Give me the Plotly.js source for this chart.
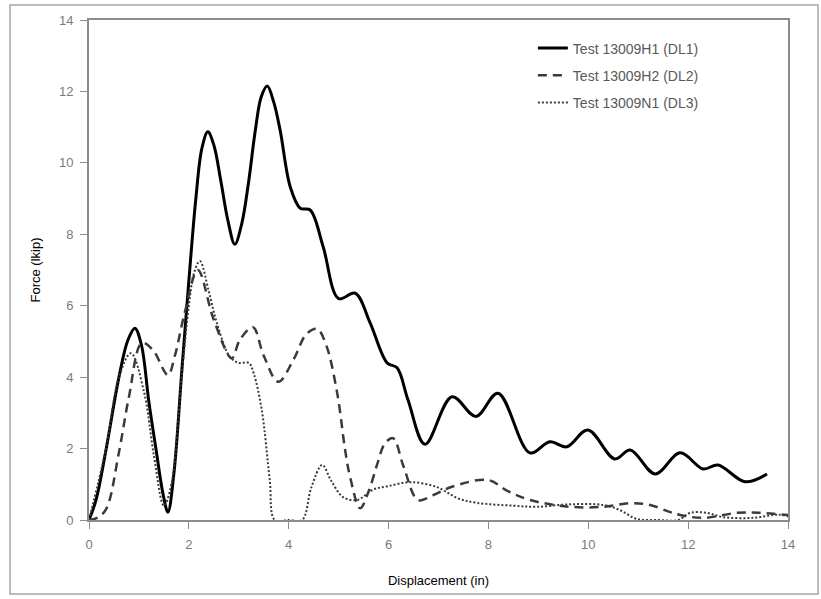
<!DOCTYPE html>
<html>
<head>
<meta charset="utf-8">
<script src="https://cdn.plot.ly/plotly-3.0.1.min.js"></script>
<style>html,body{margin:0;padding:0;background:#fff;}#chart{width:821px;height:599px;}</style>
</head>
<body>
<div id="chart"></div>
<script>
// Test 13009H1 (DL1)
const dl1X = [0, 0.14, 0.34, 0.6, 0.78, 0.92, 1.05, 1.2, 1.34, 1.48, 1.58, 1.7, 1.86, 2.0, 2.14, 2.26, 2.38, 2.5, 2.64, 2.78, 2.92, 3.06, 3.2, 3.33, 3.45, 3.57, 3.7, 3.83, 4.03, 4.23, 4.43, 4.69, 5.0, 5.33, 5.63, 5.97, 6.17, 6.39, 6.73, 7.27, 7.75, 8.19, 8.83, 9.23, 9.57, 9.99, 10.53, 10.84, 11.34, 11.84, 12.3, 12.6, 13.14, 13.58];
const dl1Y = [0, 0.56, 1.96, 4.0, 5.04, 5.37, 4.9, 3.3, 2.0, 0.75, 0.22, 1.3, 4.2, 6.7, 9.0, 10.4, 10.87, 10.5, 9.5, 8.4, 7.72, 8.3, 9.5, 10.9, 11.85, 12.15, 11.7, 10.9, 9.33, 8.73, 8.68, 7.65, 6.2, 6.35, 5.52, 4.4, 4.26, 3.36, 2.12, 3.45, 2.9, 3.55, 1.88, 2.19, 2.05, 2.52, 1.71, 1.96, 1.29, 1.88, 1.43, 1.54, 1.07, 1.29];

// Test 13009H2 (DL2)
const dl2X = [0, 0.15, 0.34, 0.6, 0.8, 1.06, 1.28, 1.58, 1.72, 1.92, 2.18, 2.5, 2.86, 3.02, 3.28, 3.5, 3.79, 4.1, 4.35, 4.57, 4.75, 4.97, 5.13, 5.23, 5.43, 5.6, 5.77, 5.93, 6.09, 6.3, 6.59, 6.9, 7.27, 7.99, 8.4, 8.83, 9.63, 10.3, 10.84, 11.24, 11.64, 11.84, 12.3, 12.98, 13.44, 14];
const dl2Y = [0, 0.05, 0.3, 1.9, 3.45, 4.96, 4.76, 4.06, 4.6, 5.82, 7.0, 5.6, 4.53, 5.04, 5.4, 4.6, 3.87, 4.5, 5.2, 5.35, 4.9, 3.56, 1.96, 1.2, 0.33, 0.8, 1.55, 2.15, 2.29, 1.5, 0.56, 0.7, 0.93, 1.12, 0.8, 0.56, 0.37, 0.37, 0.47, 0.42, 0.22, 0.14, 0.06, 0.2, 0.2, 0.14];

// Test 13009N1 (DL3)
const dl3X = [0, 0.34, 0.6, 0.84, 1.1, 1.3, 1.5, 1.65, 1.86, 2.0, 2.1, 2.22, 2.4, 2.56, 2.82, 3.0, 3.2, 3.3, 3.46, 3.62, 3.72, 4.0, 4.27, 4.45, 4.67, 4.85, 5.09, 5.37, 5.69, 6.0, 6.43, 6.97, 7.4, 7.77, 8.5, 8.97, 9.63, 10.3, 10.63, 10.97, 11.4, 11.8, 12.04, 12.37, 12.7, 13.3, 13.8, 14];
const dl3Y = [0, 2.0, 4.0, 4.67, 3.6, 1.8, 0.4, 1.0, 4.1, 6.0, 6.9, 7.25, 6.4, 5.52, 4.57, 4.4, 4.4, 4.1, 3.08, 1.12, 0, 0, 0, 0.9, 1.54, 1.1, 0.64, 0.56, 0.85, 0.95, 1.06, 0.92, 0.6, 0.48, 0.4, 0.37, 0.44, 0.42, 0.28, 0.03, 0, 0, 0.2, 0.2, 0.08, 0.06, 0.15, 0.1];

const names = ["Test 13009H1 (DL1)", "Test 13009H2 (DL2)", "Test 13009N1 (DL3)"];
const xTicks = [0, 2, 4, 6, 8, 10, 12, 14];
const yTicks = [0, 2, 4, 6, 8, 10, 12, 14];

const traces = [
  {x: dl1X, y: dl1Y, name: names[0], legendgroup: "a", mode: "lines",
   line: {color: "#000000", width: 3, shape: "spline", smoothing: 1}},
  {x: dl2X, y: dl2Y, name: names[1], legendgroup: "b", mode: "lines",
   line: {color: "#3a3a3a", width: 2.5, dash: "9px,6px", shape: "spline", smoothing: 1}},
  {x: dl3X, y: dl3Y, name: names[2], legendgroup: "c", mode: "lines",
   line: {color: "#3a3a3a", width: 2, dash: "2px,2px", shape: "spline", smoothing: 1}}
];

const FONT = "Liberation Sans, Arial, sans-serif";
const axisCommon = {
  showgrid: false, zeroline: false, showline: true, mirror: true,
  linecolor: "#8c8c8c", linewidth: 2, ticks: "outside", ticklen: 7,
  tickcolor: "#8c8c8c", tickwidth: 1, ticklabelstandoff: 4,
  tickfont: {family: FONT, size: 13, color: "#7a7a7a"}
};

const layout = {
  width: 821, height: 599,
  margin: {l: 89, r: 33, t: 20, b: 79},
  paper_bgcolor: "#ffffff", plot_bgcolor: "#ffffff",
  showlegend: true,
  legend: {x: 0.635, y: 0.975, xanchor: "left", yanchor: "top",
    font: {family: FONT, size: 14, color: "#595959"},
    bgcolor: "rgba(0,0,0,0)", traceorder: "grouped", tracegroupgap: 6},
  xaxis: Object.assign({}, axisCommon, {
    range: [0, 14], tickvals: xTicks, ticktext: xTicks.map(String),
    title: {text: "Displacement (in)", standoff: 25,
      font: {family: FONT, size: 13, color: "#000000"}}
  }),
  yaxis: Object.assign({}, axisCommon, {
    range: [0, 14], tickvals: yTicks, ticktext: yTicks.map(String),
    title: {text: "Force (lkip)", standoff: 15,
      font: {family: FONT, size: 13, color: "#000000"}}
  }),
  shapes: [{type: "rect", xref: "paper", yref: "paper",
    x0: -0.113, x1: 1.043, y0: -0.148, y1: 1.03,
    line: {color: "#a6a6a6", width: 1.5}, fillcolor: "rgba(0,0,0,0)", layer: "below"}]
};

Plotly.newPlot("chart", traces, layout, {displayModeBar: false, staticPlot: true});
</script>
</body>
</html>
